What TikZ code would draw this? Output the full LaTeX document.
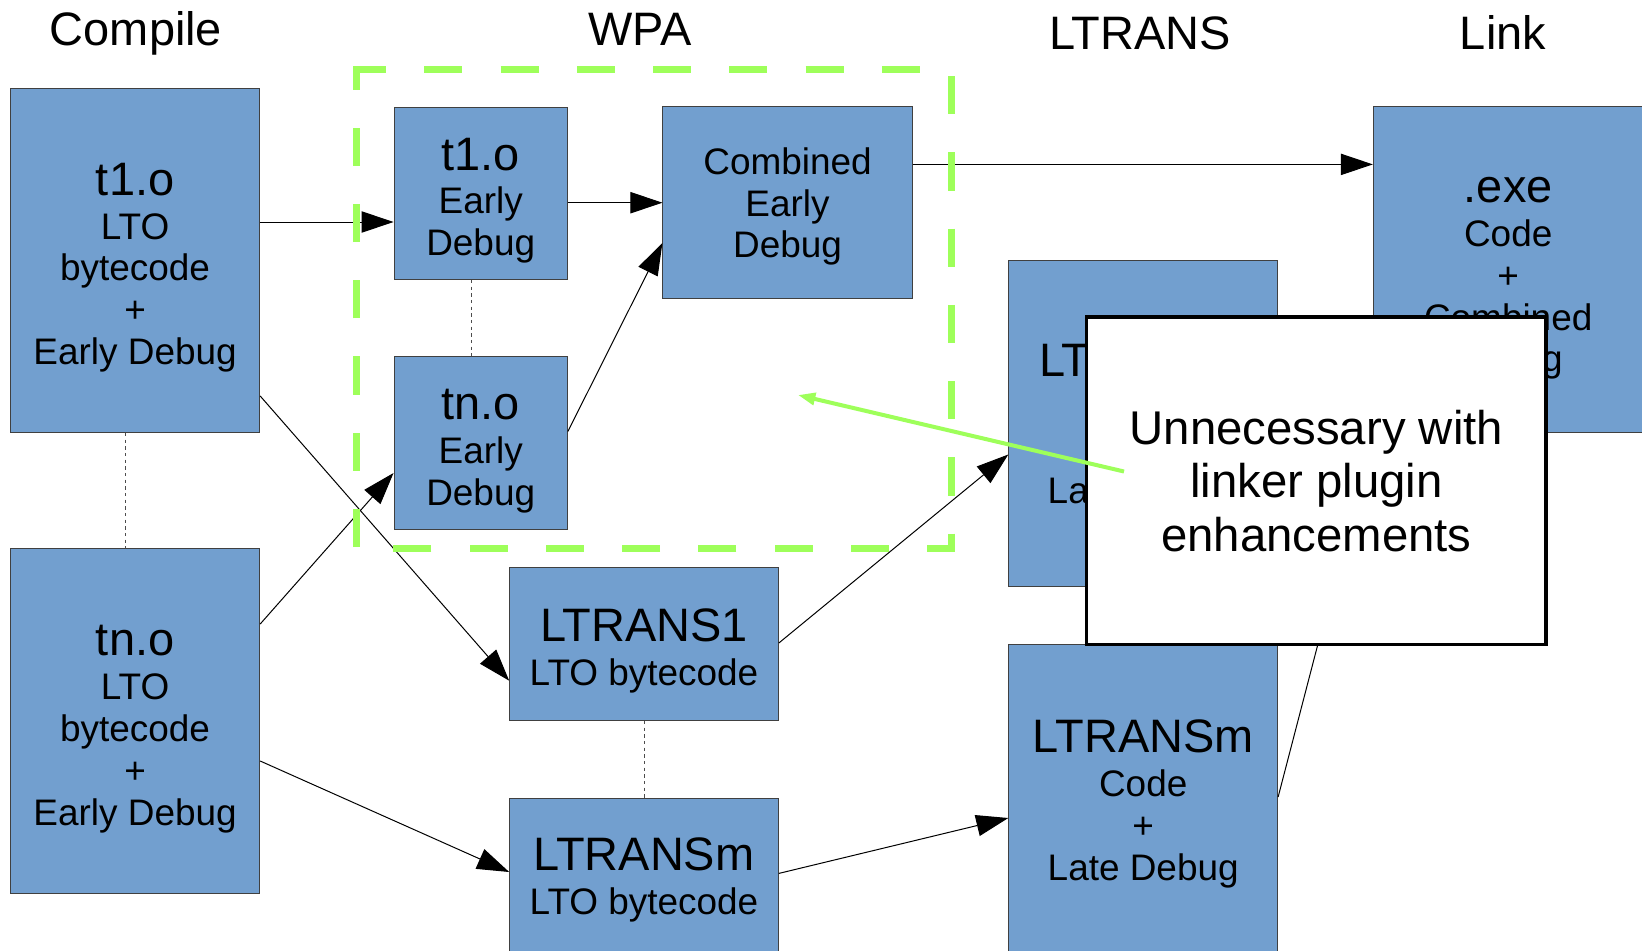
\documentclass[tikz,border=0pt]{standalone}
\usepackage{fontspec}
\setmainfont{Liberation Sans}
\usetikzlibrary{arrows.meta}

\definecolor{caixaazul}{HTML}{729FCF}
\definecolor{verdeclaro}{RGB}{158,255,90}
\newcommand{\grande}[1]{{\fontsize{35.2}{40}\selectfont #1}}
\newcommand{\alto}[1]{\rule{0pt}{#1}}

\begin{document}
\begin{tikzpicture}[x=0.75pt, y=-0.75pt, >={Triangle[length=24pt,width=16pt]},
    caixa/.style={draw=black!75, line width=0.75pt, fill=caixaazul, align=center,
      inner sep=0pt, text depth=0pt, font=\fontsize{27.7}{31.4}\selectfont},
    seta/.style={->, line width=0.75pt},
    pontilhado/.style={draw=black!70, line width=0.75pt, dash pattern=on 2.5pt off 2.5pt},
    titulo/.style={anchor=base, font=\fontsize{35.2}{40}\selectfont}]
  \useasboundingbox (0,0) rectangle (1642,950);
  \fill[white] (0,0) rectangle (1642,950);

  % Titulos
  \node[titulo] (tcomp) at (136,45.7) {Compile};
  \node[titulo] (twpa) at (640,45.7) {WPA};
  \node[titulo] (tltrans) at (1140,49.5) {LTRANS};
  \node[titulo] (tlink) at (1503,49.5) {Link};

  % Caixas
  \node[caixa, minimum width=186.9pt, minimum height=258.4pt] (c1) at (135.1,260.3)
    {\grande{\alto{29.5pt}t1.o}\\[1.5pt] LTO\\ bytecode\\ +\\ Early Debug};
  \node[caixa, minimum width=186.9pt, minimum height=258.4pt] (cn) at (135.1,721)
    {\grande{\alto{29.5pt}tn.o}\\[1.5pt] LTO\\ bytecode\\ +\\ Early Debug};
  \node[caixa, minimum width=130pt, minimum height=129.3pt] (w1) at (480.7,193.2)
    {\grande{\alto{29.5pt}t1.o}\\[1.5pt] Early\\ Debug};
  \node[caixa, minimum width=130pt, minimum height=129.3pt] (wn) at (480.7,442.8)
    {\grande{\alto{29.5pt}tn.o}\\[1.5pt] Early\\ Debug};
  \node[caixa, minimum width=186.9pt, minimum height=143.8pt] (comb) at (787.5,202.7)
    {Combined\\ Early\\ Debug};
  \node[caixa, minimum width=201.5pt, minimum height=114.8pt] (lt1) at (644,644)
    {\grande{\alto{29.5pt}LTRANS1}\\[1.5pt] LTO bytecode};
  \node[caixa, minimum width=201.5pt, minimum height=114.8pt] (ltm) at (644,874.9)
    {\grande{\alto{27pt}LTRANSm}\\[1.5pt] LTO bytecode};
  \node[caixa, minimum width=201.6pt, minimum height=244.4pt] (ll1) at (1143.2,423.7)
    {\grande{LTRANS1}\\[1.5pt] Code\\ +\\ Late Debug};
  \node[caixa, text depth=12.1pt, minimum width=201.6pt, minimum height=244.4pt] (llm) at (1143.2,807.9)
    {\grande{LTRANSm}\\[1.5pt] Code\\ +\\ Late Debug};
  \node[caixa, minimum width=202.3pt, minimum height=244.4pt] (exe) at (1508.2,269.8)
    {\grande{\alto{26.1pt}.exe}\\[1.5pt] Code\\ +\\ Combined\\ Debug};

  % Setas
  \draw[seta] (c1.east |- 0,222) -- (w1.west |- 0,222);
  \draw[seta] (w1.east |- comb.west) -- (comb.west);
  \draw[seta] (wn.east |- 0,431.5) -- (comb.west |- 0,243);
  \draw[seta] (comb.east |- 0,164.4) -- (exe.west |- 0,164.4);
  \draw[seta] (c1.east |- 0,396) -- (lt1.west |- 0,680.7);
  \draw[seta] (cn.east |- 0,624) -- (wn.west |- 0,473);
  \draw[seta] (cn.east |- 0,761) -- (ltm.west |- 0,872);
  \draw[seta] (lt1.east |- 0,643) -- (ll1.west |- 0,454.5);
  \draw[seta] (ltm.east |- 0,873.4) -- (llm.west |- 0,818);
  \draw[seta] (llm.east |- 0,797) -- (exe.south west);

  % Pontilhados
  \draw[pontilhado] (c1.south -| 125.7,0) -- (cn.north -| 125.7,0);
  \draw[pontilhado] (w1.south -| 471,0) -- (wn.north -| 471,0);
  \draw[pontilhado] (lt1.south) -- (ltm.north);

  % Caixa verde tracejada
  \draw[verdeclaro, line width=5.25pt, dash pattern=on 28.6pt off 28.6pt]
    (356,77) -- (356,69) -- (951,69) -- (951,548) -- (356,548) -- cycle;

  % Nota
  \node[draw, line width=2.6pt, fill=white, minimum width=344.5pt, minimum height=245.4pt,
    align=center, font=\fontsize{35.5}{40}\selectfont] (nota) at (1316.3,480.8)
    {Unnecessary with\\ linker plugin\\ enhancements};
  \coordinate (notaini) at (1124,471.5);
  \coordinate (notafim) at (798,395);
  \draw[verdeclaro, line width=3pt, -{Triangle[length=13pt,width=9pt]}] (notaini) -- (notafim);
\end{tikzpicture}
\end{document}
